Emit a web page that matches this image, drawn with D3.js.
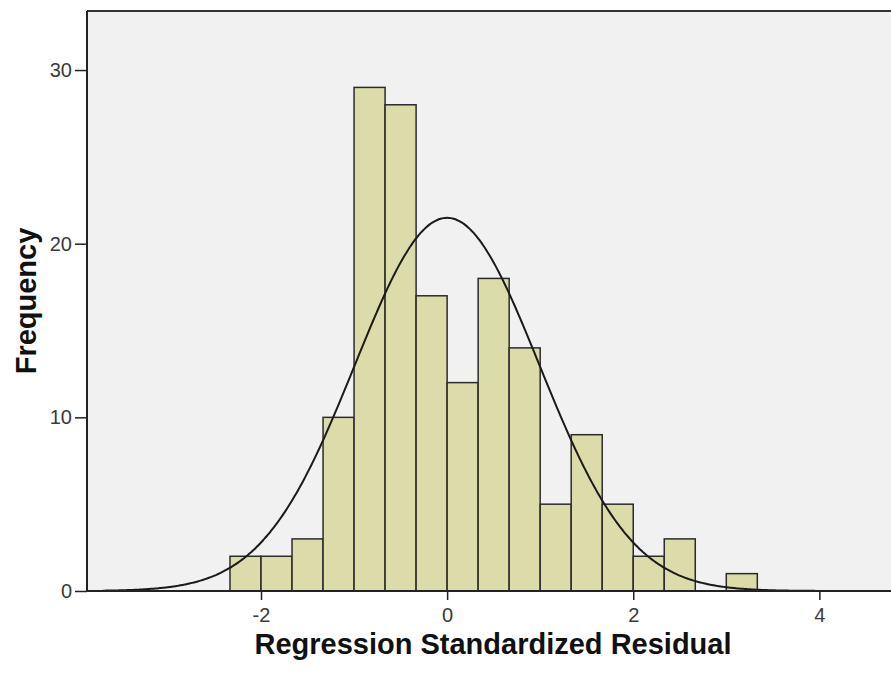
<!DOCTYPE html>
<html>
<head>
<meta charset="utf-8">
<script src="https://cdn.jsdelivr.net/npm/d3@7"></script>
<style>
  body { margin: 0; background: #ffffff; }
  text { font-family: "Liberation Sans", Arial, sans-serif; }
</style>
</head>
<body>
<script>
var w = 891;
var h = 686;

// histogram bins (width 1/3), lower edges as thirds
var binEdges = [-7, -6, -5, -4, -3, -2, -1, 0, 1, 2, 3, 4, 5, 6, 7, 8, 9, 10].map(function (k) { return k / 3; });
var counts = [2, 2, 3, 10, 29, 28, 17, 12, 18, 14, 5, 9, 5, 2, 3, 0, 1];
var xTicks = [-2, 0, 2, 4];
var yTicks = [0, 10, 20, 30];

// fitted normal curve parameters
var mean = 0.0;
var stdDev = 0.99;
var N = 160;

var margin = { left: 87, top: 11, bottom: 95 };

var x = d3.scaleLinear().domain([-3.87, 4.77]).range([margin.left, w]);
var y = d3.scaleLinear().domain([0, 33.4]).range([h - margin.bottom, margin.top]);

var svg = d3.select("body")
    .append("svg")
    .attr("width", w)
    .attr("height", h);

// plot background
svg.append("rect")
    .attr("x", margin.left)
    .attr("y", margin.top)
    .attr("width", w - margin.left + 5)
    .attr("height", y(0) - margin.top)
    .attr("fill", "#f1f1f1");

// bars
var bins = counts.map(function (c, i) { return { x0: binEdges[i], x1: binEdges[i + 1], n: c }; });
svg.selectAll("rect.bar")
    .data(bins.filter(function (d) { return d.n > 0; }))
    .enter()
    .append("rect")
    .attr("class", "bar")
    .attr("x", function (d) { return x(d.x0); })
    .attr("y", function (d) { return y(d.n); })
    .attr("width", function (d) { return x(d.x1) - x(d.x0); })
    .attr("height", function (d) { return y(0) - y(d.n); })
    .attr("fill", "#dcdcaa")
    .attr("stroke", "#2b2b2b")
    .attr("stroke-width", 1.5);

// normal curve
var binW = 1 / 3;
var curveX = d3.range(-3.7, 4.6, 0.02);
var line = d3.line()
    .x(function (d) { return x(d); })
    .y(function (d) {
        var z = (d - mean) / stdDev;
        return y(N * binW * Math.exp(-0.5 * z * z) / (stdDev * Math.sqrt(2 * Math.PI)));
    })
    .curve(d3.curveBasis);

svg.append("path")
    .datum(curveX)
    .attr("d", line)
    .attr("fill", "none")
    .attr("stroke", "#1a1a1a")
    .attr("stroke-width", 2);

// frame: top border
svg.append("line")
    .attr("x1", margin.left).attr("x2", w)
    .attr("y1", margin.top).attr("y2", margin.top)
    .attr("stroke", "#333333")
    .attr("stroke-width", 2);

// axes
var xAxis = d3.axisBottom(x).tickValues(xTicks).tickSize(9).tickPadding(8)
    .tickFormat(function (d) { return String(d); });
var yAxis = d3.axisLeft(y).tickValues(yTicks).tickSize(12).tickPadding(3)
    .tickFormat(function (d) { return String(d); });

var gx = svg.append("g")
    .attr("transform", "translate(0," + y(0) + ")")
    .call(xAxis);
gx.select(".domain").attr("stroke", "#222").attr("stroke-width", 2)
    .attr("d", "M" + margin.left + ",0H" + w);
gx.selectAll(".tick line").attr("stroke", "#222").attr("stroke-width", 1.5);
gx.selectAll(".tick text")
    .attr("font-size", 20)
    .attr("font-family", "Liberation Sans, Arial, sans-serif")
    .attr("fill", "#3a3a3a");

var gy = svg.append("g")
    .attr("transform", "translate(" + margin.left + ",0)")
    .call(yAxis);
gy.select(".domain").attr("stroke", "#222").attr("stroke-width", 2)
    .attr("d", "M0," + margin.top + "V" + y(0));
gy.selectAll(".tick line").attr("stroke", "#222").attr("stroke-width", 1.5);
gy.selectAll(".tick text")
    .attr("font-size", 20)
    .attr("font-family", "Liberation Sans, Arial, sans-serif")
    .attr("fill", "#3a3a3a");

// axis titles
svg.append("text")
    .text("Regression Standardized Residual")
    .attr("x", 493)
    .attr("y", 654)
    .attr("text-anchor", "middle")
    .attr("font-size", 29)
    .attr("font-weight", "bold")
    .attr("fill", "#111");

svg.append("text")
    .text("Frequency")
    .attr("transform", "translate(36,301) rotate(-90)")
    .attr("text-anchor", "middle")
    .attr("font-size", 29)
    .attr("font-weight", "bold")
    .attr("fill", "#111");
</script>
</body>
</html>
